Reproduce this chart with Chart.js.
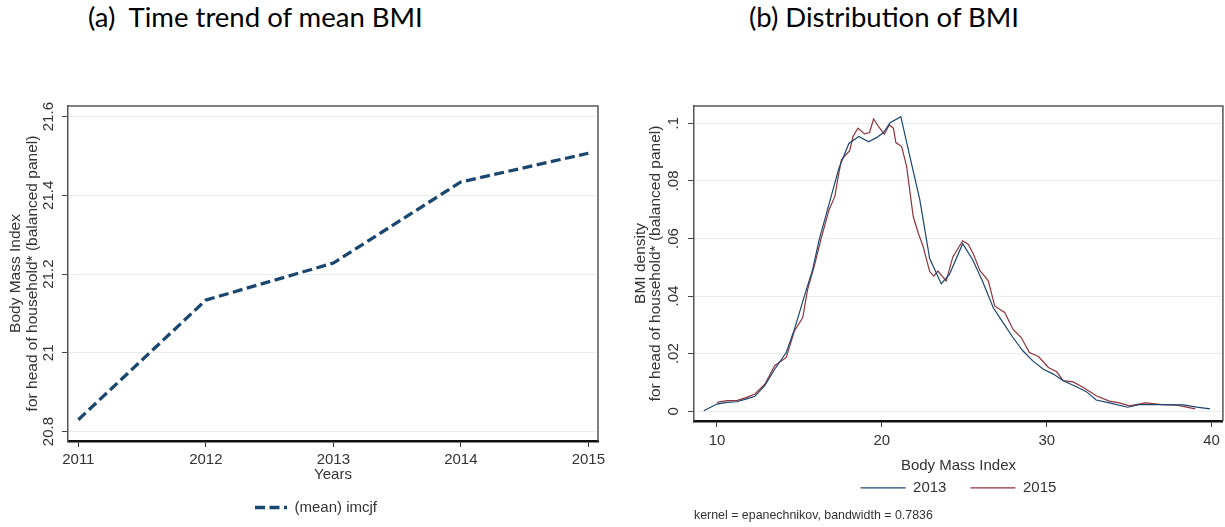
<!DOCTYPE html>
<html>
<head>
<meta charset="utf-8">
<script src="https://cdn.jsdelivr.net/npm/chart.js@4.4.1/dist/chart.umd.min.js"></script>
<style>
    body { margin: 0; background: #fff; width: 1225px; height: 527px; position: relative; overflow: hidden; }
    .ttl { position: absolute; top: 1.5px; font-family: Lato, 'Open Sans', sans-serif; font-size: 27.5px; line-height: 30px; color: #000; white-space: pre; }
    canvas { position: absolute; top: 0; }
</style>
</head>
<body>
<div class="ttl" style="left:88px">(a)  Time trend of mean BMI</div>
<div class="ttl" style="left:749px">(b) Distribution of BMI</div>
<canvas id="chartA" width="612" height="527" style="left:0"></canvas>
<canvas id="chartB" width="613" height="527" style="left:612px"></canvas>
<script>
// (a) mean BMI per year
const years = [2011, 2012, 2013, 2014, 2015];
const meanBmi = [20.83, 21.134, 21.228, 21.434, 21.507];
const yTicksA = [20.8, 21, 21.2, 21.4, 21.6];
const yLabelsA = ['20.8', '21', '21.2', '21.4', '21.6'];

// (b) kernel densities
const bmi2013 = [9.2, 10.0, 10.6, 11.2, 11.8, 12.3, 12.9, 13.5, 14.2, 14.7, 15.3, 15.8, 16.2, 16.8, 17.4, 18.0, 18.6, 19.2, 19.7, 20.1,
    20.5, 21.15, 21.7, 22.3, 22.9, 23.6, 24.1, 24.9, 25.5, 26.1, 26.75, 27.35, 27.95, 28.55, 29.15, 29.8, 30.4, 31.0, 31.8, 32.4,
    33.0, 33.8, 34.9, 35.6, 37.0, 38.3, 39.1, 39.9];
const dens2013 = [0.0002, 0.0025, 0.0031, 0.0033, 0.0043, 0.0052, 0.0089, 0.0146, 0.0204, 0.0285, 0.0400, 0.0492, 0.0596, 0.0720, 0.0845, 0.0930, 0.0954, 0.0936, 0.0951, 0.0968,
    0.1002, 0.1023, 0.0884, 0.0735, 0.0530, 0.0443, 0.0475, 0.0582, 0.0527, 0.0452, 0.0360, 0.0308, 0.0256, 0.0210, 0.0175, 0.0146, 0.0129, 0.0106, 0.0085, 0.0068,
    0.0039, 0.0029, 0.0014, 0.0023, 0.0023, 0.0022, 0.0014, 0.0008];
const bmi2015 = [10.0, 10.6, 11.2, 11.8, 12.3, 12.9, 13.5, 14.2, 14.7, 15.2, 15.5, 15.9, 16.3, 16.8, 17.15, 17.35, 17.55, 18.05, 18.25, 18.55,
    18.95, 19.25, 19.5, 19.8, 20.15, 20.45, 20.7, 20.85, 21.2, 21.5, 21.9, 22.2, 22.5, 22.9, 23.15, 23.4, 23.9, 24.3, 24.9, 25.25,
    25.55, 25.95, 26.45, 26.85, 27.45, 27.95, 28.45, 28.95, 29.5, 30.1, 30.6, 31.0, 31.6, 32.2, 33.0, 33.8, 34.4, 35.0, 36.0, 37.0,
    37.9, 39.0];
const dens2015 = [0.0031, 0.0037, 0.0037, 0.0048, 0.0060, 0.0094, 0.0158, 0.0187, 0.0279, 0.0325, 0.0423, 0.0504, 0.0596, 0.0700, 0.0746, 0.0815, 0.0873, 0.0905, 0.0954, 0.0983,
    0.0963, 0.0968, 0.1015, 0.0988, 0.0962, 0.0994, 0.0983, 0.0933, 0.0919, 0.0850, 0.0677, 0.0620, 0.0573, 0.0485, 0.0469, 0.0487, 0.0452, 0.0535, 0.0592, 0.0579,
    0.0546, 0.0488, 0.0454, 0.0365, 0.0343, 0.0285, 0.0256, 0.0204, 0.0190, 0.0152, 0.0137, 0.0106, 0.0102, 0.0083, 0.0054, 0.0035, 0.0029, 0.0019, 0.0029, 0.0023,
    0.0021, 0.0008];
const xTicksB = [10, 20, 30, 40];
const yTicksB = [0, 0.02, 0.04, 0.06, 0.08, 0.1];
const yLabelsB = ['0', '.02', '.04', '.06', '.08', '.1'];

Chart.defaults.font.family = "'Liberation Sans', Arial, sans-serif";
Chart.defaults.font.size = 15;
Chart.defaults.color = '#333';

// plot frame (top + right) and rotated y tick labels, Stata style
const stataFrame = {
    id: 'stataFrame',
    afterDraw(chart, args, opts) {
        const { ctx, chartArea: a } = chart;
        const y = chart.scales.y;
        ctx.save();
        ctx.strokeStyle = '#555';
        ctx.lineWidth = 1.5;
        ctx.beginPath();
        ctx.moveTo(a.left, a.top);
        ctx.lineTo(a.right, a.top);
        ctx.lineTo(a.right, a.bottom);
        ctx.stroke();
        ctx.fillStyle = '#333';
        ctx.font = "15px 'Liberation Sans', Arial, sans-serif";
        ctx.textAlign = 'center';
        ctx.textBaseline = 'middle';
        y.ticks.forEach((t, i) => {
            ctx.save();
            ctx.translate(y.right - opts.gap, y.getPixelForValue(t.value));
            ctx.rotate(-Math.PI / 2);
            ctx.fillText(opts.labels[i], 0, 0);
            ctx.restore();
        });
        ctx.restore();
    }
};

// moves the legend sideways after layout
const legendShift = {
    id: 'legendShift',
    afterLayout(chart, args, opts) {
        chart.legend.left += opts.dx;
        chart.legend.right += opts.dx;
    }
};

// legend samples take dash and width from the dataset line
function lineLabels(chart) {
    const items = Chart.defaults.plugins.legend.labels.generateLabels(chart);
    items.forEach(item => {
        const ds = chart.data.datasets[item.datasetIndex];
        item.lineDash = ds.borderDash || [];
        item.lineWidth = ds.borderWidth;
        item.strokeStyle = ds.borderColor;
        item.lineCap = 'butt';
    });
    return items;
}

const yGrid = { color: '#e7eef1', lineWidth: 1, tickLength: 6, tickColor: '#444' };
const xGrid = { drawOnChartArea: false, tickLength: 6, tickColor: '#333' };

new Chart(document.getElementById('chartA'), {
    type: 'line',
    data: {
        datasets: [{
            label: '(mean) imcjf',
            data: years.map((x, i) => ({ x: x, y: meanBmi[i] })),
            borderColor: '#1a476f',
            backgroundColor: '#1a476f',
            borderWidth: 3.3,
            borderDash: [10, 4.5],
            borderCapStyle: 'butt',
            pointRadius: 0,
            tension: 0,
            fill: false
        }]
    },
    options: {
        responsive: false,
        animation: false,
        layout: { padding: { left: 0, right: 14, top: 106, bottom: 2 } },
        scales: {
            x: {
                type: 'linear',
                min: 2010.919,
                max: 2015.076,
                afterBuildTicks: s => { s.ticks = years.map(v => ({ value: v })); },
                afterFit: s => { s.height = 43; },
                grid: xGrid,
                border: { color: '#111', width: 2.5 },
                ticks: { padding: 4, maxRotation: 0, autoSkip: false, callback: v => String(v) },
                title: { display: true, text: 'Years', padding: { top: 0, bottom: 0 }, font: { size: 15 } }
            },
            y: {
                min: 20.776,
                max: 21.627,
                afterBuildTicks: s => { s.ticks = yTicksA.map(v => ({ value: v })); },
                afterFit: s => { s.width = 68; },
                grid: yGrid,
                border: { color: '#555', width: 1.5 },
                ticks: { display: false },
                title: {
                    display: true,
                    text: ['Body Mass Index', 'for head of household* (balanced panel)'],
                    font: { size: 15.5, lineHeight: 1.06 },
                    padding: { top: 7.75, bottom: 0 }
                }
            }
        },
        plugins: {
            legend: {
                position: 'bottom',
                fullSize: false,
                labels: {
                    usePointStyle: true, pointStyle: 'line', pointStyleWidth: 32, padding: 16,
                    font: { size: 15 }, generateLabels: lineLabels
                }
            },
            tooltip: { enabled: false },
            stataFrame: { gap: 19, labels: yLabelsA },
            legendShift: { dx: -17 }
        }
    },
    plugins: [stataFrame, legendShift]
});

new Chart(document.getElementById('chartB'), {
    type: 'line',
    data: {
        datasets: [{
            label: '2013',
            data: bmi2013.map((x, i) => ({ x: x, y: dens2013[i] })),
            borderColor: '#1a476f',
            backgroundColor: '#1a476f',
            borderWidth: 1.2,
            pointRadius: 0,
            tension: 0,
            fill: false
        }, {
            label: '2015',
            data: bmi2015.map((x, i) => ({ x: x, y: dens2015[i] })),
            borderColor: '#90353b',
            backgroundColor: '#90353b',
            borderWidth: 1.2,
            pointRadius: 0,
            tension: 0,
            fill: false
        }]
    },
    options: {
        responsive: false,
        animation: false,
        layout: { padding: { left: 0, right: 2, top: 106, bottom: 3.7 } },
        scales: {
            x: {
                type: 'linear',
                min: 8.606,
                max: 40.685,
                afterBuildTicks: s => { s.ticks = xTicksB.map(v => ({ value: v })); },
                afterFit: s => { s.height = 35.5; },
                grid: xGrid,
                border: { color: '#111', width: 2.5 },
                ticks: { padding: 5, maxRotation: 0, autoSkip: false, callback: v => String(v) },
                title: { display: true, text: 'Body Mass Index', padding: { top: 0, bottom: -18.5 }, font: { size: 15 } }
            },
            y: {
                min: -0.00336,
                max: 0.106,
                afterBuildTicks: s => { s.ticks = yTicksB.map(v => ({ value: v })); },
                afterFit: s => { s.width = 82; },
                grid: yGrid,
                border: { color: '#555', width: 1.5 },
                ticks: { display: false },
                title: {
                    display: true,
                    text: ['BMI density', 'for head of household* (balanced panel)'],
                    font: { size: 15.5, lineHeight: 1.0 },
                    padding: { top: 20.5, bottom: 0 }
                }
            }
        },
        plugins: {
            legend: {
                position: 'bottom',
                fullSize: false,
                labels: {
                    usePointStyle: true, pointStyle: 'line', pointStyleWidth: 45, padding: 24,
                    font: { size: 15 }, generateLabels: lineLabels
                }
            },
            subtitle: {
                display: true,
                text: 'kernel = epanechnikov, bandwidth = 0.7836',
                position: 'bottom',
                align: 'start',
                fullSize: false,
                color: '#333',
                font: { size: 12.4, weight: 'normal' },
                padding: { top: 3, bottom: 0 }
            },
            tooltip: { enabled: false },
            stataFrame: { gap: 20, labels: yLabelsB }
        }
    },
    plugins: [stataFrame]
});
</script>
</body>
</html>
